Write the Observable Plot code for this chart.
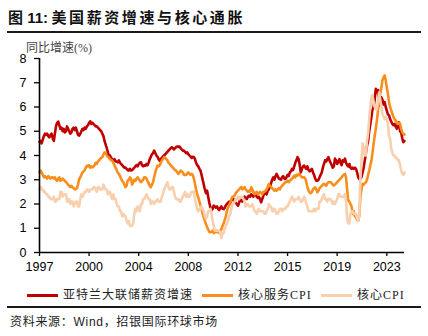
<!DOCTYPE html>
<html>
<head>
<meta charset="utf-8">
<script src="https://cdn.jsdelivr.net/npm/d3@7"></script>
<script src="https://cdn.jsdelivr.net/npm/@observablehq/plot@0.6"></script>
<style>
  html, body { margin: 0; padding: 0; background: #fff; }
  #wrap { position: relative; width: 428px; height: 336px; overflow: hidden; }
  .abs { position: absolute; white-space: nowrap; }
</style>
</head>
<body>
<div id="wrap"></div>
<script>
// ---- data (monthly, Jan 1997 - Aug 2024) ----
const startYear = 1997;
const seriesNames = ["亚特兰大联储薪资增速", "核心服务CPI", "核心CPI"];
const seriesColors = ["#C00000", "#F98E1D", "#F9CFAE"];

const wage = [
  4.55,4.6,4.5,4.65,4.8,4.9,4.85,4.9,4.8,4.75,4.85,4.9,
  4.7,4.6,4.9,5.2,5.35,5.4,5.25,5.1,5.15,5.0,5.1,4.95,
  5.0,5.2,5.1,5.0,4.9,4.95,5.1,5.15,5.05,5.15,5.0,4.85,
  4.82,4.9,5.0,5.1,5.05,5.15,5.1,5.2,5.25,5.35,5.41,5.3,
  5.35,5.3,5.25,5.2,5.2,5.15,5.1,5.05,5.0,4.9,4.8,4.6,
  4.45,4.3,4.15,3.95,4.0,3.9,3.85,3.8,3.85,3.75,3.75,3.72,
  3.8,3.7,3.65,3.6,3.55,3.5,3.5,3.45,3.4,3.38,3.45,3.38,
  3.4,3.45,3.5,3.55,3.6,3.55,3.65,3.7,3.72,3.6,3.55,3.6,
  3.58,3.65,3.6,3.7,3.85,3.95,4.05,4.1,4.2,4.1,4.0,3.95,
  3.85,3.79,3.85,3.9,3.95,4.0,4.05,4.1,4.15,4.2,4.25,4.3,
  4.34,4.3,4.25,4.3,4.35,4.37,4.35,4.37,4.3,4.25,4.2,4.2,
  4.15,4.1,4.13,4.05,4.0,3.95,3.9,3.95,3.93,3.85,3.7,3.6,
  3.55,3.45,3.38,3.2,3.0,2.8,2.6,2.45,2.55,2.3,2.05,1.86,
  1.75,1.8,1.93,1.9,1.85,1.9,1.8,1.75,1.85,1.9,1.8,1.79,
  1.85,1.95,2.0,2.05,2.1,2.0,2.15,2.2,2.2,2.1,2.05,2.0,
  1.93,2.05,2.2,2.15,2.1,2.2,2.3,2.25,2.2,2.3,2.35,2.3,
  2.4,2.35,2.3,2.45,2.4,2.3,2.25,2.3,2.2,2.07,2.2,2.35,
  2.45,2.48,2.4,2.55,2.6,2.7,2.85,3.0,3.1,3.0,3.15,3.24,
  3.15,3.05,3.03,3.0,3.1,3.15,3.05,3.03,3.1,3.2,3.15,3.3,
  3.35,3.45,3.4,3.55,3.7,3.8,3.93,3.85,3.6,3.3,3.45,3.55,
  3.58,3.5,3.45,3.55,3.4,3.35,3.4,3.45,3.3,3.2,3.05,2.96,
  2.96,3.0,3.1,3.2,3.3,3.5,3.65,3.8,3.75,3.85,3.93,3.8,
  3.7,3.6,3.5,3.55,3.87,3.8,3.65,3.75,3.85,3.7,3.6,3.8,
  3.75,3.87,3.7,3.6,3.55,3.65,3.5,3.45,3.5,3.45,3.5,3.45,
  3.3,3.1,3.03,3.05,3.1,3.3,3.5,3.8,4.1,4.4,4.6,5.0,
  5.3,5.6,5.9,6.0,6.3,6.75,6.6,6.7,6.06,6.2,6.4,6.3,
  6.1,6.2,6.0,5.85,5.7,5.65,5.5,5.4,5.3,5.25,5.3,5.2,
  5.1,5.3,5.37,5.0,4.96,4.7,4.55,4.6
];

const coreServices = [
  3.3,3.38,3.3,3.2,3.1,3.15,3.1,3.05,3.15,3.1,3.05,3.1,
  3.1,3.05,3.1,3.0,2.95,3.05,3.1,2.96,3.0,3.05,3.0,2.95,
  2.9,2.85,2.8,2.75,2.7,2.75,2.69,2.65,2.6,2.62,2.65,2.8,
  3.03,3.1,3.2,3.3,3.35,3.4,3.5,3.58,3.55,3.6,3.5,3.55,
  3.51,3.55,3.6,3.7,3.65,3.75,3.8,3.85,3.9,3.93,4.05,4.13,
  4.1,4.0,3.95,3.9,3.85,3.8,3.79,3.7,3.6,3.5,3.4,3.3,
  3.24,3.15,3.05,2.95,2.9,2.8,2.69,2.75,2.96,3.0,3.1,3.05,
  2.8,2.9,3.0,2.95,3.05,3.1,3.03,2.95,2.9,2.95,3.0,3.1,
  3.1,3.05,2.95,2.85,2.75,2.69,2.8,2.9,3.1,3.3,3.45,3.58,
  3.55,3.6,3.7,3.79,3.85,3.93,3.9,3.86,3.8,3.7,3.65,3.6,
  3.55,3.5,3.45,3.4,3.38,3.3,3.24,3.3,3.38,3.35,3.3,3.2,
  3.2,3.2,3.25,3.3,3.25,3.2,3.24,3.2,3.05,2.83,2.6,2.4,
  2.27,2.1,1.95,1.8,1.6,1.45,1.3,1.17,1.05,0.95,0.85,0.83,
  0.85,0.9,0.8,0.85,0.83,0.9,0.85,0.8,0.9,0.95,1.1,1.2,
  1.35,1.5,1.7,1.85,1.95,2.05,2.2,2.3,2.3,2.35,2.45,2.5,
  2.55,2.6,2.65,2.7,2.6,2.65,2.7,2.6,2.55,2.5,2.55,2.5,
  2.69,2.6,2.5,2.4,2.45,2.5,2.4,2.45,2.5,2.45,2.4,2.5,
  2.5,2.55,2.6,2.7,2.83,2.75,2.7,2.65,2.6,2.55,2.6,2.55,
  2.6,2.65,2.6,2.7,2.75,2.8,2.85,2.9,2.9,2.95,2.9,2.96,
  3.0,3.05,3.1,3.17,3.1,3.2,3.17,3.24,3.2,3.15,3.1,3.1,
  3.1,3.05,2.9,2.7,2.55,2.48,2.45,2.5,2.6,2.65,2.69,2.6,
  2.48,2.55,2.65,2.7,2.75,2.8,2.83,2.8,2.75,2.85,2.9,2.9,
  2.9,2.85,2.8,2.76,2.8,2.85,2.9,2.95,3.0,3.05,3.1,3.17,
  3.2,3.24,3.1,2.6,2.14,2.1,2.0,1.9,1.59,1.7,1.5,1.45,
  1.35,1.31,1.5,2.3,2.6,2.83,2.8,2.85,2.9,3.0,3.2,3.38,
  3.6,3.79,4.1,4.48,4.8,5.1,5.44,5.86,6.3,6.55,6.8,7.1,
  7.23,7.3,7.1,6.8,6.55,6.2,6.0,5.86,5.72,5.6,5.5,5.44,
  5.37,5.3,5.35,5.3,5.1,4.96,4.9,4.86
];

const coreCPI = [
  2.6,2.7,2.6,2.6,2.5,2.5,2.4,2.4,2.3,2.3,2.2,2.2,
  2.2,2.3,2.1,2.1,2.2,2.2,2.2,2.5,2.5,2.3,2.4,2.4,
  2.4,2.1,2.1,2.2,2.0,2.1,2.1,1.9,2.0,2.1,2.1,1.9,
  1.9,2.2,2.4,2.3,2.4,2.5,2.5,2.6,2.6,2.5,2.6,2.6,
  2.6,2.7,2.7,2.6,2.5,2.7,2.7,2.6,2.6,2.6,2.8,2.7,
  2.6,2.6,2.4,2.5,2.5,2.3,2.2,2.4,2.2,2.2,2.0,1.9,
  1.9,1.7,1.7,1.5,1.6,1.5,1.5,1.3,1.2,1.3,1.1,1.1,
  1.1,1.2,1.6,1.8,1.7,1.9,1.8,1.7,2.0,2.0,2.2,2.2,
  2.3,2.4,2.3,2.2,2.2,2.0,2.1,2.1,2.0,2.1,2.1,2.2,
  2.1,2.1,2.1,2.3,2.4,2.6,2.7,2.8,2.9,2.7,2.6,2.6,
  2.7,2.7,2.5,2.3,2.2,2.2,2.2,2.1,2.1,2.2,2.3,2.4,
  2.5,2.3,2.4,2.3,2.3,2.4,2.5,2.5,2.5,2.2,2.0,1.8,
  1.7,1.8,1.8,1.9,1.8,1.7,1.5,1.4,1.5,1.7,1.7,1.8,
  1.6,1.3,1.1,0.9,0.9,0.9,0.9,0.9,0.8,0.6,0.8,0.8,
  1.0,1.1,1.2,1.3,1.5,1.6,1.8,2.0,2.0,2.1,2.2,2.2,
  2.3,2.2,2.3,2.3,2.3,2.2,2.1,1.9,2.0,2.0,1.9,1.9,
  1.9,2.0,1.9,1.7,1.7,1.6,1.7,1.8,1.7,1.7,1.7,1.7,
  1.6,1.6,1.7,1.8,2.0,1.9,1.9,1.7,1.7,1.8,1.7,1.6,
  1.6,1.7,1.8,1.8,1.7,1.8,1.8,1.8,1.9,1.9,2.0,2.1,
  2.2,2.3,2.2,2.1,2.2,2.2,2.2,2.3,2.2,2.1,2.1,2.2,
  2.3,2.2,2.0,1.9,1.7,1.7,1.7,1.7,1.7,1.8,1.7,1.8,
  1.8,1.8,2.1,2.1,2.2,2.3,2.4,2.2,2.2,2.1,2.2,2.2,
  2.2,2.1,2.0,2.1,2.0,2.1,2.2,2.4,2.4,2.3,2.3,2.3,
  2.3,2.4,2.1,1.4,1.2,1.2,1.6,1.7,1.7,1.6,1.6,1.6,
  1.4,1.3,1.6,3.0,3.8,4.5,4.3,4.0,4.0,4.6,4.9,5.5,
  6.0,6.4,6.5,6.2,6.0,5.9,5.9,6.3,6.6,6.3,6.0,5.7,
  5.6,5.5,5.6,5.5,5.3,4.8,4.7,4.3,4.1,4.0,4.0,3.9,
  3.9,3.8,3.8,3.6,3.4,3.25,3.2,3.3
];

const yTicks = [0, 1, 2, 3, 4, 5, 6, 7, 8];
const xTickMonths = ["1997-01", "2000-10", "2004-07", "2008-04", "2012-01", "2015-10", "2019-07", "2023-04"];
const xTickLabels = ["1997", "2000", "2004", "2008", "2012", "2015", "2019", "2023"];

const titleNum = "图 11:";
const titleText = "美国薪资增速与核心通胀";
const yLabel = "同比增速(%)";
const sourceText = "资料来源：<span style=\"font-family:'Liberation Sans',sans-serif\">Wind</span>，招银国际环球市场";

// ---- build ----
const dates = wage.map((_, i) => new Date(Date.UTC(startYear, i, 1)));
const toRows = arr => arr.map((v, i) => ({date: dates[i], value: v}));
const tickDates = xTickMonths.map(s => new Date(s + "-01T00:00:00Z"));
const labelMap = new Map(tickDates.map((d, i) => [+d, xTickLabels[i]]));

const chart = Plot.plot({
  width: 428,
  height: 240,
  marginLeft: 39,
  marginRight: 24,
  marginTop: 18,
  marginBottom: 28,
  style: {fontFamily: '"Liberation Sans", Arial, sans-serif', fontSize: "12.5px", color: "#000", background: "transparent", overflow: "visible"},
  x: {type: "utc", domain: [dates[0], dates[dates.length - 1]]},
  y: {domain: [0, 8]},
  marks: [
    Plot.axisY(yTicks, {tickSize: 5, tickPadding: 8, label: null, strokeWidth: 1.3}),
    Plot.axisX(tickDates, {tickSize: 4, tickPadding: 6, label: null, strokeWidth: 1.3, tickFormat: d => labelMap.get(+d)}),
    Plot.lineY(toRows(wage), {x: "date", y: "value", stroke: seriesColors[0], strokeWidth: 2.6}),
    Plot.lineY(toRows(coreServices), {x: "date", y: "value", stroke: seriesColors[1], strokeWidth: 2.6}),
    Plot.lineY(toRows(coreCPI), {x: "date", y: "value", stroke: seriesColors[2], strokeWidth: 2.6}),
    Plot.ruleX([dates[0]], {stroke: "#000", strokeWidth: 1.6}),
    Plot.ruleY([0], {stroke: "#000", strokeWidth: 1.6})
  ]
});

const wrap = document.getElementById("wrap");
chart.style.position = "absolute";
chart.style.left = "0px";
chart.style.top = "40px";
wrap.appendChild(chart);

function addDiv(html, css) {
  const d = document.createElement("div");
  d.className = "abs";
  d.innerHTML = html;
  Object.assign(d.style, css);
  wrap.appendChild(d);
  return d;
}

// title
addDiv(`<span style="font-family:'Liberation Sans','Noto Sans CJK SC',sans-serif;font-weight:bold;">${titleNum.replace(" ", "&nbsp;")}</span>&nbsp;<span style="letter-spacing:2.6px">${titleText}</span>`,
  {left: "8px", top: "8px", fontSize: "15px", lineHeight: "18px", fontWeight: "bold", fontFamily: "'Noto Sans CJK SC', sans-serif", color: "#111"});
addDiv("", {left: "7px", top: "30.5px", width: "414px", height: "2.6px", background: "#1a1a1a"});

// y label
addDiv(yLabel, {left: "26px", top: "42px", fontSize: "12px", lineHeight: "13px", color: "#444", fontFamily: "'Liberation Serif','Noto Sans CJK SC',serif"});

// legend
const legendLineX = [27, 202, 321];
const legendTextX = [63, 238, 357];
seriesNames.forEach((name, i) => {
  addDiv("", {left: legendLineX[i] + "px", top: "293.5px", width: "31px", height: "3px", background: seriesColors[i]});
  addDiv(name, {left: legendTextX[i] + "px", top: "288.5px", fontSize: "12px", lineHeight: "13px", letterSpacing: "1px", color: "#222", fontFamily: "'Liberation Serif','Noto Sans CJK SC',serif"});
});

// bottom rule + source
addDiv("", {left: "7px", top: "305.5px", width: "414px", height: "2.6px", background: "#1a1a1a"});
addDiv(sourceText, {left: "10px", top: "314px", fontSize: "12px", lineHeight: "13px", letterSpacing: "0.7px", color: "#222", fontFamily: "'Noto Sans CJK SC', sans-serif"});
</script>
</body>
</html>
